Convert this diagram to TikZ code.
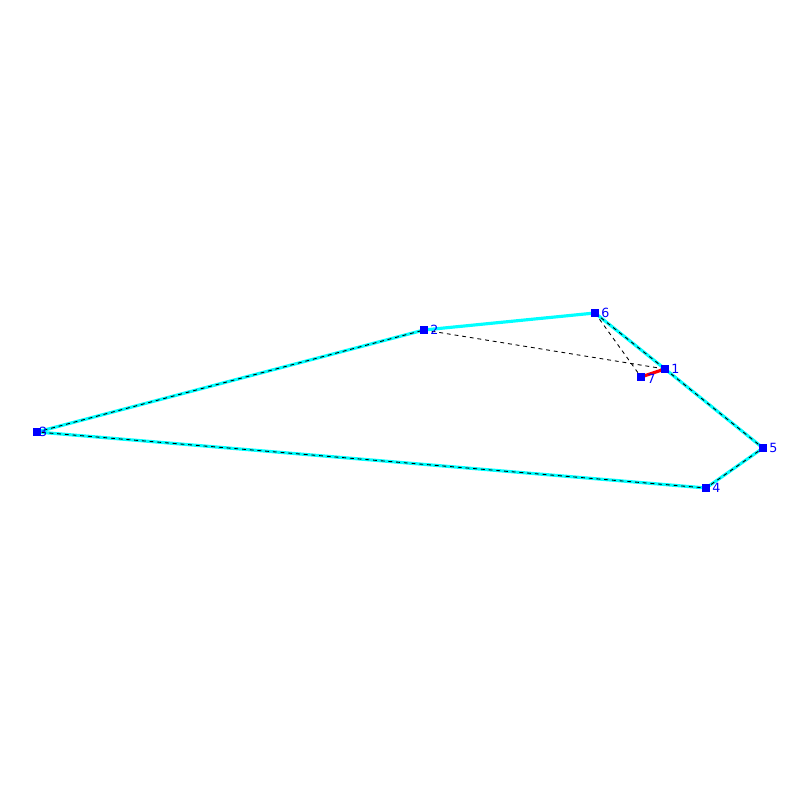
\documentclass[tikz,border=0pt]{standalone}
\usepackage{fontspec}
\setsansfont{DejaVu Sans}
\usetikzlibrary{positioning}

\definecolor{hullcyan}{RGB}{0,255,255}
\definecolor{ptblue}{RGB}{0,0,255}

\tikzset{
    pt/.style={draw=none, fill=ptblue, minimum size=2.2pt, inner sep=0pt, rectangle},
    lbl/.style={text=ptblue, font=\sffamily\fontsize{3.6}{4}\selectfont, inner sep=0.3pt},
    edge/.style={hullcyan, line width=0.9pt, line join=round},
    trace/.style={black, line width=0.25pt, dash pattern=on 1.1pt off 1.1pt, line join=round}
}

\begin{document}
\begin{tikzpicture}
    \useasboundingbox (0,0) rectangle (8,8);
    
    % vertices
    \coordinate (c1) at (6.65,4.31);
    \coordinate (c2) at (4.24,4.70);
    \coordinate (c3) at (0.37,3.68);
    \coordinate (c4) at (7.06,3.12);
    \coordinate (c5) at (7.63,3.52);
    \coordinate (c6) at (5.95,4.87);
    \coordinate (c7) at (6.41,4.23);
    
    % hull
    \draw[edge] (c1) -- (c5) -- (c4) -- (c3) -- (c2) -- (c6) -- cycle;
    
    \draw[trace] (c1) -- (c5) -- (c4) -- (c3) -- (c2);
    \draw[trace] (c6) -- (c1);
    \draw[trace] (c2) -- (c1);
    \draw[trace] (c6) -- (c7);
    
    \draw[red, line width=0.9pt] (c7) -- (c1);
    
    \node[pt, label={[lbl]right:1}] (p1) at (c1) {};
    \node[pt, label={[lbl]right:2}] (p2) at (c2) {};
    \node[pt, label={[lbl, xshift=-1.2pt]right:3}] (p3) at (c3) {};
    \node[pt, label={[lbl]right:4}] (p4) at (c4) {};
    \node[pt, label={[lbl]right:5}] (p5) at (c5) {};
    \node[pt, label={[lbl]right:6}] (p6) at (c6) {};
    \node[pt, label={[lbl, yshift=-0.6pt]right:7}] (p7) at (c7) {};
\end{tikzpicture}
\end{document}
